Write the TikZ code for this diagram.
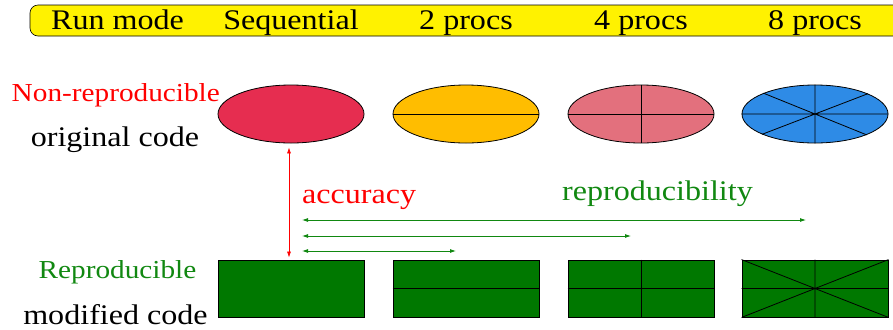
\documentclass[tikz,border=0pt]{standalone}
\usepackage{fontspec}
\setmainfont[FakeStretch=1.13]{Liberation Serif}
\usetikzlibrary{shapes.geometric,arrows.meta,calc}
\definecolor{barY}{HTML}{FFF200}
\definecolor{cRed}{HTML}{E62D50}
\definecolor{cOrange}{HTML}{FFBD00}
\definecolor{cPink}{HTML}{E3707D}
\definecolor{cBlue}{HTML}{2E8BE6}
\definecolor{cGreen}{HTML}{007800}
\definecolor{tGreen}{HTML}{118811}
\tikzset{
  txt/.style={font=\fontsize{28.5}{32}\selectfont, inner sep=0pt},
  stxt/.style={font=\fontsize{26}{30}\selectfont, inner sep=0pt},
  ell/.style={ellipse, draw=black, line width=0.8bp, minimum width=146bp, minimum height=58bp, inner sep=0pt},
  box/.style={rectangle, draw=black, line width=0.8bp, fill=cGreen, minimum width=146bp, minimum height=57bp, inner sep=0pt},
  div/.style={draw=black, line width=0.8bp},
  garr/.style={draw=tGreen, line width=0.8bp, {Latex[length=6bp,width=4bp]}-{Latex[length=6bp,width=4bp]}},
  rarr/.style={draw=red, line width=0.7bp, {Latex[length=6bp,width=4bp]}-{Latex[length=6bp,width=4bp]}}
}
\begin{document}
\begin{tikzpicture}[x=1bp,y=-1bp]
\useasboundingbox (0,0) rectangle (893,329);
% top bar
\path[fill=barY, draw=black, line width=0.6bp, rounded corners=8bp] (910,5) -- (30,5) -- (30,36) -- (910,36);
\node[txt, anchor=base] (rm) at (117.5,29) {Run mode};
\node[txt, anchor=base] (sq) at (291,29) {Sequential};
\node[txt, anchor=base] (p2) at (466,29) {2 procs};
\node[txt, anchor=base] (p4) at (641,29) {4 procs};
\node[txt, anchor=base] (p8) at (815,29) {8 procs};
% ellipses
\node[ell, fill=cRed] (e1) at (291,114) {};
\node[ell, fill=cOrange] (e2) at (466,114) {};
\node[ell, fill=cPink] (e3) at (641,114) {};
\node[ell, fill=cBlue] (e4) at (815,114) {};
\draw[div] (e2.west) -- (e2.east);
\draw[div] (e3.west) -- (e3.east) (e3.north) -- (e3.south);
\draw[div] (e4.west) -- (e4.east) (e4.north) -- (e4.south)
  (e4.21.7) -- (e4.201.7) (e4.158.3) -- (e4.338.3);
% rectangles
\node[box] (r1) at (291,288.5) {};
\node[box] (r2) at (466,288.5) {};
\node[box] (r3) at (641,288.5) {};
\node[box] (r4) at (815,288.5) {};
\draw[div] (r2.west) -- (r2.east);
\draw[div] (r3.west) -- (r3.east) (r3.north) -- (r3.south);
\draw[div] (r4.west) -- (r4.east) (r4.north) -- (r4.south)
  (r4.north west) -- (r4.south east) (r4.south west) -- (r4.north east);
% left labels
\node[stxt, anchor=base east, text=red] (nr) at (220,101) {Non-reproducible};
\node[txt, anchor=base] (oc) at (115,146) {original code};
\node[stxt, anchor=base, text=tGreen] (rp) at (117.5,278) {Reproducible};
\node[txt, anchor=base, text depth=0pt] (mc) at (115.5,324) {modified code};
% arrows
\coordinate (a0) at ($(e1.south)+(-2,4)$);
\coordinate (a1) at ($(r1.north)+(-2,-2)$);
\draw[rarr] (a0) -- (a1);
\node[txt, anchor=base west, text=red] (acc) at (302,203) {accuracy};
\node[txt, anchor=base, text=tGreen] (rep) at (657.5,200) {reproducibility};
\coordinate (g1s) at (302,220);
\coordinate (g1e) at (806,220);
\coordinate (g2s) at (302,236);
\coordinate (g2e) at (631,236);
\coordinate (g3s) at (302,251);
\coordinate (g3e) at (456,251);
\draw[garr] (g1s) -- (g1e);
\draw[garr] (g2s) -- (g2e);
\draw[garr] (g3s) -- (g3e);
\end{tikzpicture}
\end{document}
